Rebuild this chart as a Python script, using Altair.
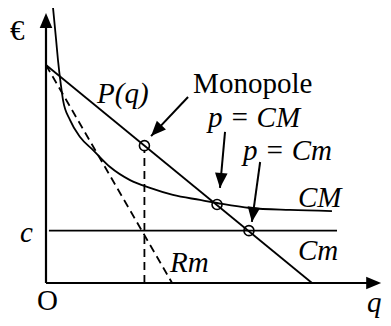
import math
import pandas as pd
import altair as alt

# ---- data (economic units: quantity q, price p) ----
demand_q = [0, 10]
demand_p = [10, 0]

rm_q = [0, 4.74]
rm_p = [10, 0]

c_level = 2.4
cm_line_q = [0.11, 10.94]

cm_q = [0.25, 0.38, 0.45, 0.56, 0.64, 0.90, 1.28, 1.77, 2.41, 3.16, 3.91, 4.77, 5.79, 6.43, 7.67, 9.17, 10.75]
cm_p = [12.8, 11.15, 10.23, 9.08, 8.39, 7.48, 6.70, 6.10, 5.32, 4.72, 4.36, 4.04, 3.81, 3.67, 3.44, 3.35, 3.30]

eq_names = ["Monopole", "p = CM", "p = Cm"]
eq_q = [3.7, 6.43, 7.63]
eq_p = [6.3, 3.6, 2.4]

monopole_drop = [0, 6.08]

arrow_start_q = [5.34, 6.73, 8.05]
arrow_start_p = [8.53, 6.93, 5.55]
arrow_tip_q = [3.95, 6.54, 7.74]
arrow_tip_p = [6.74, 4.36, 2.80]

axis_q_tip = 12.6
axis_p_tip = 12.38

label_text = ["€", "P(q)", "Monopole", "p = CM", "p = Cm", "CM", "Cm", "c", "Rm", "O", "q"]
label_q = [-1.35, 1.92, 5.53, 6.09, 7.41, 9.47, 9.47, -0.98, 4.66, -0.34, 12.07]
label_p = [11.15, 8.26, 8.72, 7.16, 5.64, 3.49, 1.06, 1.88, 0.51, -1.24, -1.33]
label_italic = [False, True, False, True, True, True, True, True, True, False, True]

# ---- layout ----
W, H = 375, 310
Q_DOM = [-1.4286, 12.669]
P_DOM = [-1.606, 12.615]
px_q = W / (Q_DOM[1] - Q_DOM[0])
px_p = H / (P_DOM[1] - P_DOM[0])

xs = alt.Scale(domain=Q_DOM, nice=False, zero=False)
ys = alt.Scale(domain=P_DOM, nice=False, zero=False)
X = lambda f="q": alt.X(f"{f}:Q", scale=xs, axis=None)
Y = lambda f="p": alt.Y(f"{f}:Q", scale=ys, axis=None)

FONT = "Liberation Serif"
BLACK = "#000000"
HEAD = "M0,0L-0.42,1L0.42,1Z"


def ang(q0, p0, q1, p1):
    dx = (q1 - q0) * px_q
    dy = -(p1 - p0) * px_p
    return math.degrees(math.atan2(dx, -dy)) % 360


# axes
axes_df = pd.DataFrame({
    "q": [0, 0], "p": [0, 0],
    "q2": [axis_q_tip - 0.3, 0], "p2": [0, axis_p_tip - 0.4],
})
axes = alt.Chart(axes_df).mark_rule(color=BLACK, strokeWidth=2.2).encode(
    x=X(), y=Y(), x2="q2:Q", y2="p2:Q")

axis_heads_df = pd.DataFrame({
    "q": [axis_q_tip, 0], "p": [0, axis_p_tip], "angle": [90, 0]})
axis_heads = alt.Chart(axis_heads_df).mark_point(
    shape=HEAD, filled=True, size=900, color=BLACK, opacity=1, strokeWidth=0
).encode(x=X(), y=Y(), angle=alt.Angle("angle:Q", scale=None))

# demand
demand = alt.Chart(pd.DataFrame({"q": demand_q, "p": demand_p, "i": [0, 1]})).mark_line(
    color=BLACK, strokeWidth=1.8).encode(x=X(), y=Y(), order="i:Q")

# marginal revenue
rm = alt.Chart(pd.DataFrame({"q": rm_q, "p": rm_p, "i": [0, 1]})).mark_line(
    color=BLACK, strokeWidth=1.8, strokeDash=[8, 5]).encode(x=X(), y=Y(), order="i:Q")

# marginal cost (horizontal)
cmline = alt.Chart(pd.DataFrame({"q": cm_line_q, "p": [c_level, c_level], "i": [0, 1]})).mark_line(
    color=BLACK, strokeWidth=1.8).encode(x=X(), y=Y(), order="i:Q")

# average cost curve
cm = alt.Chart(pd.DataFrame({"q": cm_q, "p": cm_p, "i": list(range(len(cm_q)))})).mark_line(
    color=BLACK, strokeWidth=1.8, interpolate="monotone", clip=True).encode(
    x=X(), y=Y(), order="i:Q")

# vertical dashed from monopole point
drop = alt.Chart(pd.DataFrame({"q": [eq_q[0]] * 2, "p": monopole_drop, "i": [0, 1]})).mark_line(
    color=BLACK, strokeWidth=1.8, strokeDash=[8, 5]).encode(x=X(), y=Y(), order="i:Q")

# equilibrium circles
circles = alt.Chart(pd.DataFrame({"q": eq_q, "p": eq_p, "name": eq_names})).mark_point(
    shape="circle", filled=False, size=100, color=BLACK, strokeWidth=1.6, opacity=1
).encode(x=X(), y=Y())

# arrows
arr_df = pd.DataFrame({
    "q": arrow_start_q, "p": arrow_start_p,
    "q2": arrow_tip_q, "p2": arrow_tip_p,
})
arr_df["angle"] = [ang(a, b, c, d) for a, b, c, d in zip(arrow_start_q, arrow_start_p, arrow_tip_q, arrow_tip_p)]
shafts = alt.Chart(arr_df).mark_rule(color=BLACK, strokeWidth=2).encode(
    x=X(), y=Y(), x2="q2:Q", y2="p2:Q")
heads = alt.Chart(arr_df).mark_point(
    shape=HEAD, filled=True, size=900, color=BLACK, opacity=1, strokeWidth=0
).encode(x=X("q2"), y=Y("p2"), angle=alt.Angle("angle:Q", scale=None))

# labels (one layer per label so each keeps its own font style)
label_layers = []
for t, q, p, it in zip(label_text, label_q, label_p, label_italic):
    kw = dict(font=FONT, fontSize=29, align="left", baseline="alphabetic")
    if it:
        kw["fontStyle"] = "italic"
    label_layers.append(
        alt.Chart(pd.DataFrame({"q": [q], "p": [p], "t": [t]})).mark_text(**kw).encode(
            x=X(), y=Y(), text="t:N"))

chart = alt.layer(
    drop, rm, demand, cmline, cm, axes, axis_heads, circles, shafts, heads, *label_layers
).properties(
    width=W, height=H, padding=0, background="white",
    autosize=alt.AutoSizeParams(type="none")
).configure_view(stroke=None)

chart.save("out.html", embed_options={"renderer": "svg", "actions": False})
